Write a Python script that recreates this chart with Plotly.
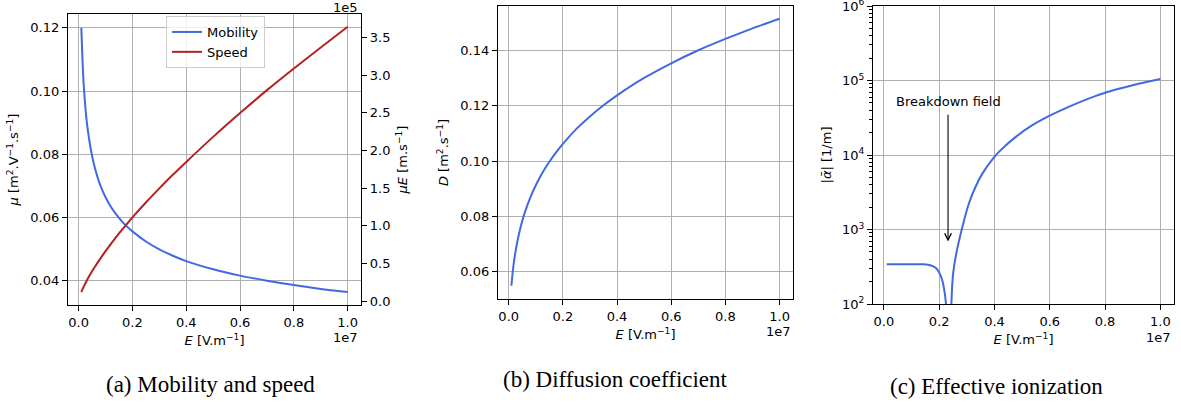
import plotly.graph_objects as go
import math

# ---------------- data ----------------
E_field = [1e5, 1.5e5, 2e5, 3e5, 4e5, 5e5, 6e5, 8e5, 1e6, 1.25e6, 1.5e6, 1.75e6,
           2e6, 2.5e6, 3e6, 3.5e6, 4e6, 5e6, 6e6, 7e6, 8e6, 9e6, 1e7]
mobility = [0.1200, 0.1085, 0.1005, 0.0905, 0.0842, 0.0795, 0.0758, 0.0703, 0.0664,
            0.0627, 0.0599, 0.0575, 0.0556, 0.0524, 0.0499, 0.0479, 0.0462, 0.0436,
            0.0416, 0.0400, 0.0386, 0.0374, 0.0364]
speed = [0.120e5, 0.163e5, 0.201e5, 0.272e5, 0.337e5, 0.398e5, 0.455e5, 0.562e5,
         0.664e5, 0.784e5, 0.899e5, 1.006e5, 1.112e5, 1.310e5, 1.497e5, 1.677e5,
         1.848e5, 2.180e5, 2.496e5, 2.800e5, 3.088e5, 3.366e5, 3.640e5]
diffusion = [0.0550, 0.0601, 0.0641, 0.0700, 0.0746, 0.0784, 0.0816, 0.0869, 0.0913,
             0.0959, 0.0998, 0.1032, 0.1063, 0.1117, 0.1162, 0.1202, 0.1238, 0.1301,
             0.1354, 0.1401, 0.1442, 0.1480, 0.1515]

E_ion = [1e5, 5e5, 1e6, 1.4e6, 1.6e6, 1.8e6, 1.9e6, 2.0e6, 2.1e6, 2.2e6, 2.25e6, 2.3e6,
         2.355e6, 2.40e6, 2.44e6, 2.46e6, 2.5e6, 2.6e6, 2.815e6, 3.08e6, 3.32e6, 3.56e6,
         3.96e6, 4.17e6, 4.77e6, 5.37e6, 5.98e6, 6.5e6, 7e6, 7.5e6, 8e6, 8.5e6,
         9e6, 9.5e6, 1e7]
alpha_eff = [342, 342, 342, 341, 336, 318, 300, 265, 215, 140, 95, 45,
             20, 55, 100, 150, 250, 440, 1000, 2270, 3780, 5620,
             9080, 11100, 17500, 25100, 33500, 41300, 49700, 58800, 68400, 77300,
             86500, 95600, 105000]

x_ticks = [0, 2e6, 4e6, 6e6, 8e6, 1e7]
x_ticktext = ["0.0", "0.2", "0.4", "0.6", "0.8", "1.0"]
mu_ticks = [0.04, 0.06, 0.08, 0.10, 0.12]
speed_ticks = [0, 0.5e5, 1e5, 1.5e5, 2e5, 2.5e5, 3e5, 3.5e5]
speed_ticktext = ["0.0", "0.5", "1.0", "1.5", "2.0", "2.5", "3.0", "3.5"]
D_ticks = [0.06, 0.08, 0.10, 0.12, 0.14]
alpha_ticks = [1e2, 1e3, 1e4, 1e5, 1e6]
alpha_ticktext = ["10<sup>2</sup>", "10<sup>3</sup>", "10<sup>4</sup>", "10<sup>5</sup>", "10<sup>6</sup>"]
alpha_minor = [m * 10 ** k for k in range(2, 6) for m in range(2, 10)]

captions = ["(a) Mobility and speed", "(b) Diffusion coefficient", "(c) Effective ionization"]

# ---------------- styling ----------------
W, H = 1181, 404
FONT = "DejaVu Sans"
FS = 13
BLUE = "#4169e1"
RED = "#b22222"
GRID = "#b0b0b0"


def px_x(p):
    return p / W


def px_y(p):
    return 1 - p / H


fig = go.Figure()

fig.add_trace(go.Scatter(x=E_field, y=mobility, name="Mobility", mode="lines",
                         line=dict(color=BLUE, width=2, shape="spline", smoothing=0.6),
                         xaxis="x", yaxis="y"))
fig.add_trace(go.Scatter(x=E_field, y=speed, name="Speed", mode="lines",
                         line=dict(color=RED, width=2, shape="spline", smoothing=0.6),
                         xaxis="x", yaxis="y2"))
fig.add_trace(go.Scatter(x=E_field, y=diffusion, name="D", mode="lines", showlegend=False,
                         line=dict(color=BLUE, width=2, shape="spline", smoothing=0.6),
                         xaxis="x2", yaxis="y3"))
fig.add_trace(go.Scatter(x=E_ion, y=alpha_eff, name="alpha", mode="lines", showlegend=False,
                         line=dict(color=BLUE, width=2, shape="spline", smoothing=0.7),
                         xaxis="x3", yaxis="y4"))

x_range = [-3.95e5, 1.0495e7]
common_axis = dict(showline=True, linecolor="black", linewidth=1.3, ticks="outside",
                   ticklen=5, tickwidth=1, tickcolor="black", showgrid=True,
                   gridcolor=GRID, gridwidth=1, zeroline=False, automargin=False,
                   tickfont=dict(family=FONT, size=FS, color="black"))

ex_title = "<i>E</i> [V.m<sup>−1</sup>]"


def xaxis(domain, anchor):
    return dict(common_axis, domain=domain, anchor=anchor, range=x_range, mirror=True,
                tickmode="array", tickvals=x_ticks, ticktext=x_ticktext,
                title=dict(text=ex_title, font=dict(family=FONT, size=FS, color="black"), standoff=7))


dom_a = [px_x(68), px_x(361)]
dom_b = [px_x(498), px_x(793)]
dom_c = [px_x(873), px_x(1174)]
ydom_a = [px_y(305), px_y(14)]
ydom_b = [px_y(299), px_y(6)]
ydom_c = [px_y(304), px_y(6)]

fig.update_layout(
    width=W, height=H, margin=dict(l=0, r=0, t=0, b=0, autoexpand=False),
    paper_bgcolor="white", plot_bgcolor="white",
    font=dict(family=FONT, size=FS, color="black"),
    xaxis=xaxis(dom_a, "y"),
    xaxis2=xaxis(dom_b, "y3"),
    xaxis3=xaxis(dom_c, "y4"),
    yaxis=dict(common_axis, domain=ydom_a, anchor="x", range=[0.0323, 0.1244],
               tickmode="array", tickvals=mu_ticks, tickformat=".2f",
               title=dict(text="<i>μ</i> [m<sup>2</sup>.V<sup>−1</sup>.s<sup>−1</sup>]",
                          font=dict(family=FONT, size=FS, color="black"), standoff=8)),
    yaxis2=dict(common_axis, domain=ydom_a, anchor="x", overlaying="y", side="right",
                range=[-0.05e5, 3.81e5], showgrid=False,
                tickmode="array", tickvals=speed_ticks, ticktext=speed_ticktext,
                title=dict(text="<i>μE</i> [m.s<sup>−1</sup>]",
                           font=dict(family=FONT, size=FS, color="black"), standoff=8)),
    yaxis3=dict(common_axis, domain=ydom_b, anchor="x2", range=[0.0502, 0.1561], mirror=True,
                tickmode="array", tickvals=D_ticks, tickformat=".2f",
                title=dict(text="<i>D</i> [m<sup>2</sup>.s<sup>−1</sup>]",
                           font=dict(family=FONT, size=FS, color="black"), standoff=8)),
    yaxis4=dict(common_axis, domain=ydom_c, anchor="x3", type="log", range=[2, 6], mirror=True,
                tickmode="array", tickvals=alpha_ticks, ticktext=alpha_ticktext,
                ticklabeloverflow="allow",
                minor=dict(ticks="outside", ticklen=2.5, tickcolor="black", tickwidth=0.8,
                           tickmode="array", tickvals=alpha_minor, showgrid=False),
                title=dict(text="|<i>ᾱ</i>| [1/m]",
                           font=dict(family=FONT, size=FS, color="black"), standoff=7)),
    legend=dict(x=px_x(166), y=px_y(16), xanchor="left", yanchor="top",
                bgcolor="rgba(255,255,255,0.8)", bordercolor="#cccccc", borderwidth=1,
                font=dict(family=FONT, size=FS, color="black"), tracegroupgap=0),
    showlegend=True,
)

annotations = []
# offset texts
for xr, yp in [(360, 337), (793, 331), (1173, 337)]:
    annotations.append(dict(xref="paper", yref="paper", x=px_x(xr), y=px_y(yp), text="1e7",
                            showarrow=False, xanchor="right", yanchor="middle",
                            font=dict(family=FONT, size=FS, color="black")))
annotations.append(dict(xref="paper", yref="paper", x=px_x(360), y=px_y(7), text="1e5",
                        showarrow=False, xanchor="right", yanchor="middle",
                        font=dict(family=FONT, size=FS, color="black")))
# captions
for cap, (cx, cy) in zip(captions, [(210, 384), (615, 379), (996, 386)]):
    annotations.append(dict(xref="paper", yref="paper", x=px_x(cx), y=px_y(cy), text=cap,
                            showarrow=False, xanchor="center", yanchor="middle",
                            font=dict(family="Liberation Serif", size=23, color="black")))
# breakdown field arrow and label
annotations.append(dict(xref="x3", yref="y4", x=2.32e6, y=math.log10(690),
                        axref="x3", ayref="y4", ax=2.32e6, ay=4.559, text="",
                        showarrow=True, arrowhead=5, arrowsize=1.2, arrowwidth=1.1,
                        arrowcolor="black", standoff=0, startstandoff=0))
annotations.append(dict(xref="x3", yref="y4", x=2.32e6, y=4.723, text="Breakdown field",
                        showarrow=False, xanchor="center", yanchor="middle",
                        font=dict(family=FONT, size=FS, color="black")))
fig.update_layout(annotations=annotations)

fig.write_html("out.html", config={"displayModeBar": False},
               post_script="document.body.style.margin='0';document.body.style.overflow='hidden';")
